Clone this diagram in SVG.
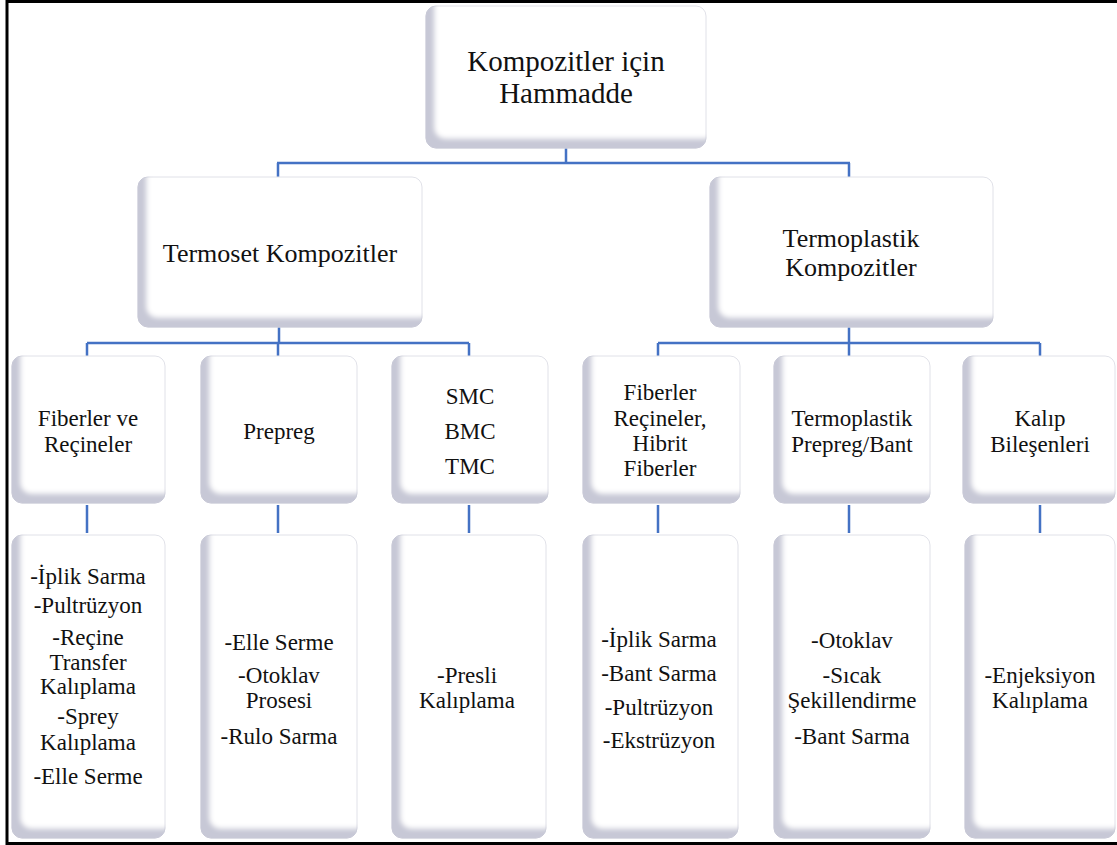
<svg xmlns="http://www.w3.org/2000/svg" width="1117" height="845" viewBox="0 0 1117 845">
<style>
.box{fill:#ffffff;stroke:#e0e1e8;stroke-width:1;filter:url(#bev)}
.t{font-family:'Liberation Serif','Times New Roman',serif;fill:#111111;text-anchor:middle}
.f1{font-size:29px}
.f2{font-size:26px}
.f3{font-size:23px}
.con{fill:none;stroke:#4472C4;stroke-width:2.5}
.frame{fill:none;stroke:#000000;stroke-width:3}
</style>
<defs>
<filter id="bev" x="-20%" y="-20%" width="140%" height="140%">
<feComponentTransfer in="SourceAlpha" result="inv"><feFuncA type="table" tableValues="1 0"/></feComponentTransfer>
<feOffset in="inv" dx="9" dy="-10" result="off"/>
<feGaussianBlur in="off" stdDeviation="2.5" result="blur"/>
<feFlood flood-color="#c7c8d6" result="c"/>
<feComposite in="c" in2="blur" operator="in" result="sh"/>
<feComposite in="sh" in2="SourceAlpha" operator="in" result="ish"/>
<feMerge><feMergeNode in="SourceGraphic"/><feMergeNode in="ish"/></feMerge>
</filter>
</defs>
<rect width="1117" height="845" fill="#ffffff"/>
<g id="connectors">
<path class="con" d="M566,148 V163 M277,163 H850 M278,163 V177 M849,163 V177"/>
<path class="con" d="M279,327 V343 M87,343 H469 M87,343 V356 M278,343 V356 M469,343 V356"/>
<path class="con" d="M849,327 V343 M658,343 H1040 M658,343 V356 M849,343 V356 M1040,343 V356"/>
<path class="con" d="M87,505 V533 M278,505 V533 M469,505 V533 M658,505 V533 M849,505 V533 M1040,505 V533"/>
</g>
<g id="n-root"><rect class="box" x="426" y="6" width="280" height="142" rx="10"/>
<text class="t f1" x="566" y="71">Kompozitler için</text><text class="t f1" x="566" y="103">Hammadde</text></g>
<g id="n-termoset"><rect class="box" x="138" y="177" width="284" height="150" rx="10"/>
<text class="t f2" x="280" y="262">Termoset Kompozitler</text></g>
<g id="n-termoplastik"><rect class="box" x="710" y="177" width="283" height="150" rx="10"/>
<text class="t f2" x="851" y="247">Termoplastik</text><text class="t f2" x="851" y="276">Kompozitler</text></g>

<g id="n-fr"><rect class="box" x="12" y="356" width="153" height="147" rx="10"/>
<text class="t f3" x="88" y="426">Fiberler ve</text><text class="t f3" x="88" y="452">Reçineler</text></g>
<g id="n-prepreg"><rect class="box" x="201" y="356" width="156" height="147" rx="10"/>
<text class="t f3" x="279" y="439">Prepreg</text></g>
<g id="n-smc"><rect class="box" x="392" y="356" width="156" height="147" rx="10"/>
<text class="t f3" x="470" y="404">SMC</text><text class="t f3" x="470" y="439">BMC</text><text class="t f3" x="470" y="474">TMC</text></g>
<g id="n-frh"><rect class="box" x="583" y="356" width="157" height="147" rx="10"/>
<text class="t f3" x="660" y="400">Fiberler</text><text class="t f3" x="660" y="426">Reçineler,</text><text class="t f3" x="660" y="451">Hibrit</text><text class="t f3" x="660" y="476">Fiberler</text></g>
<g id="n-tpb"><rect class="box" x="774" y="356" width="156" height="147" rx="10"/>
<text class="t f3" x="852" y="426">Termoplastik</text><text class="t f3" x="852" y="452">Prepreg/Bant</text></g>
<g id="n-kb"><rect class="box" x="963" y="356" width="152" height="147" rx="10"/>
<text class="t f3" x="1040" y="426">Kalıp</text><text class="t f3" x="1040" y="452">Bileşenleri</text></g>

<g id="n-p1"><rect class="box" x="12" y="535" width="153" height="303" rx="10"/>
<text class="t f3" x="88" y="584">-İplik Sarma</text>
<text class="t f3" x="88" y="613">-Pultrüzyon</text>
<text class="t f3" x="88" y="645">-Reçine</text>
<text class="t f3" x="88" y="670">Transfer</text>
<text class="t f3" x="88" y="694">Kalıplama</text>
<text class="t f3" x="88" y="724">-Sprey</text>
<text class="t f3" x="88" y="750">Kalıplama</text>
<text class="t f3" x="88" y="784">-Elle Serme</text></g>
<g id="n-p2"><rect class="box" x="201" y="535" width="156" height="303" rx="10"/>
<text class="t f3" x="279" y="650">-Elle Serme</text>
<text class="t f3" x="279" y="683">-Otoklav</text>
<text class="t f3" x="279" y="708">Prosesi</text>
<text class="t f3" x="279" y="744">-Rulo Sarma</text></g>
<g id="n-p3"><rect class="box" x="392" y="535" width="154" height="303" rx="10"/>
<text class="t f3" x="467" y="683">-Presli</text>
<text class="t f3" x="467" y="708">Kalıplama</text></g>
<g id="n-p4"><rect class="box" x="583" y="535" width="155" height="303" rx="10"/>
<text class="t f3" x="659" y="647">-İplik Sarma</text>
<text class="t f3" x="659" y="681">-Bant Sarma</text>
<text class="t f3" x="659" y="715">-Pultrüzyon</text>
<text class="t f3" x="659" y="748">-Ekstrüzyon</text></g>
<g id="n-p5"><rect class="box" x="774" y="535" width="156" height="303" rx="10"/>
<text class="t f3" x="852" y="648">-Otoklav</text>
<text class="t f3" x="852" y="683">-Sıcak</text>
<text class="t f3" x="852" y="708">Şekillendirme</text>
<text class="t f3" x="852" y="744">-Bant Sarma</text></g>
<g id="n-p6"><rect class="box" x="965" y="535" width="150" height="303" rx="10"/>
<text class="t f3" x="1040" y="683">-Enjeksiyon</text>
<text class="t f3" x="1040" y="708">Kalıplama</text></g>
<path class="frame" d="M1117,1.5 H7 V843.5 H1117"/>
</svg>
